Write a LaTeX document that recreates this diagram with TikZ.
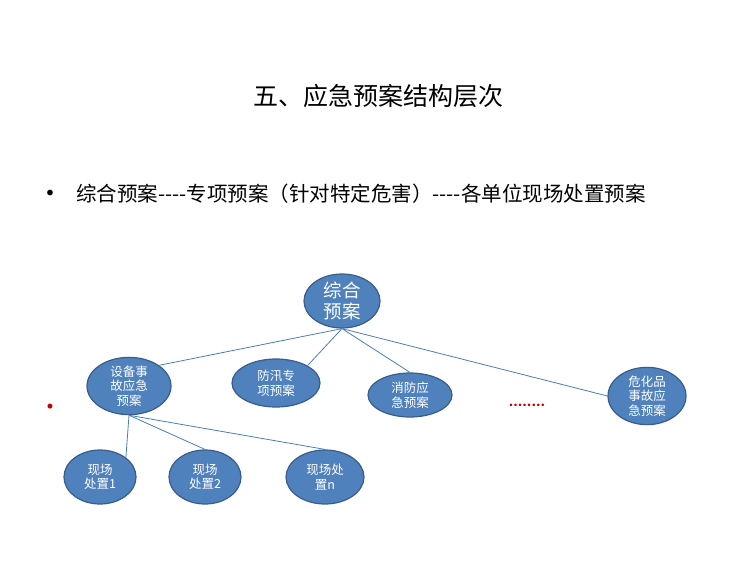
\documentclass[tikz,border=0pt]{standalone}
\usepackage{fontspec}
\setmainfont{Carlito}
\newfontfamily\cjk{Noto Sans CJK SC}
\usetikzlibrary{shapes.geometric}
\definecolor{planfill}{RGB}{79,129,189}
\definecolor{planedge}{RGB}{56,93,138}
\definecolor{linkblue}{RGB}{74,126,187}
\tikzset{
  plan/.style={ellipse, draw=planedge, line width=1.2pt, fill=planfill, text=white,
    align=center, inner sep=0pt, font=\cjk\fontsize{12.5}{14.5}\selectfont},
  link/.style={draw=linkblue, line width=0.8pt}
}
\begin{document}
\begin{tikzpicture}[x=1pt,y=-1pt]
    \useasboundingbox (0,0) rectangle (750,562);
    % titles
    \node (title) at (378,96) {\cjk\fontsize{25}{28}\selectfont 五、应急预案结构层次};
    \node (bul) at (50,194) {\fontsize{16}{18}\selectfont •};
    \node[anchor=west, inner sep=0pt] (line) at (76,194) {\cjk\fontsize{20.5}{24}\selectfont 综合预案----专项预案（针对特定危害）----各单位现场处置预案};
    \node[text=red!75!black] (dot) at (50,407) {\fontsize{14}{16}\selectfont •};
    \node[text=red!75!black] (more) at (527,405) {\bfseries\fontsize{17}{17}\selectfont ........};
    % nodes
    \node[plan, minimum width=76pt, minimum height=54pt, font=\cjk\fontsize{18.5}{21}\selectfont] (zh) at (342,301) {综合\\预案};
    \node[plan, minimum width=84pt, minimum height=48pt] (sb) at (129,386) {设备事\\故应急\\预案};
    \node[plan, minimum width=88pt, minimum height=48pt] (fx) at (276,383) {防汛专\\项预案};
    \node[plan, minimum width=84pt, minimum height=44pt] (xf) at (410,395) {消防应\\急预案};
    \node[plan, minimum width=78pt, minimum height=54pt] (wh) at (647,396) {危化品\\事故应\\急预案};
    \node[plan, minimum width=72pt, minimum height=54pt] (xc1) at (100,477) {现场\\处置1};
    \node[plan, minimum width=72pt, minimum height=54pt] (xc2) at (205,477) {现场\\处置2};
    \node[plan, minimum width=78pt, minimum height=54pt] (xcn) at (325,477) {现场处\\置n};
    % links
    \draw[link] (zh.south) -- (sb.north east);
    \draw[link] (zh.south) -- (fx.north east);
    \draw[link] (zh.south) -- (xf.north);
    \draw[link] (zh.south) -- (wh.west);
    \draw[link] (sb.south) -- (xc1.north east);
    \draw[link] (sb.south) -- (xc2.north);
    \draw[link] (sb.south) -- (xcn.north);
\end{tikzpicture}
\end{document}
